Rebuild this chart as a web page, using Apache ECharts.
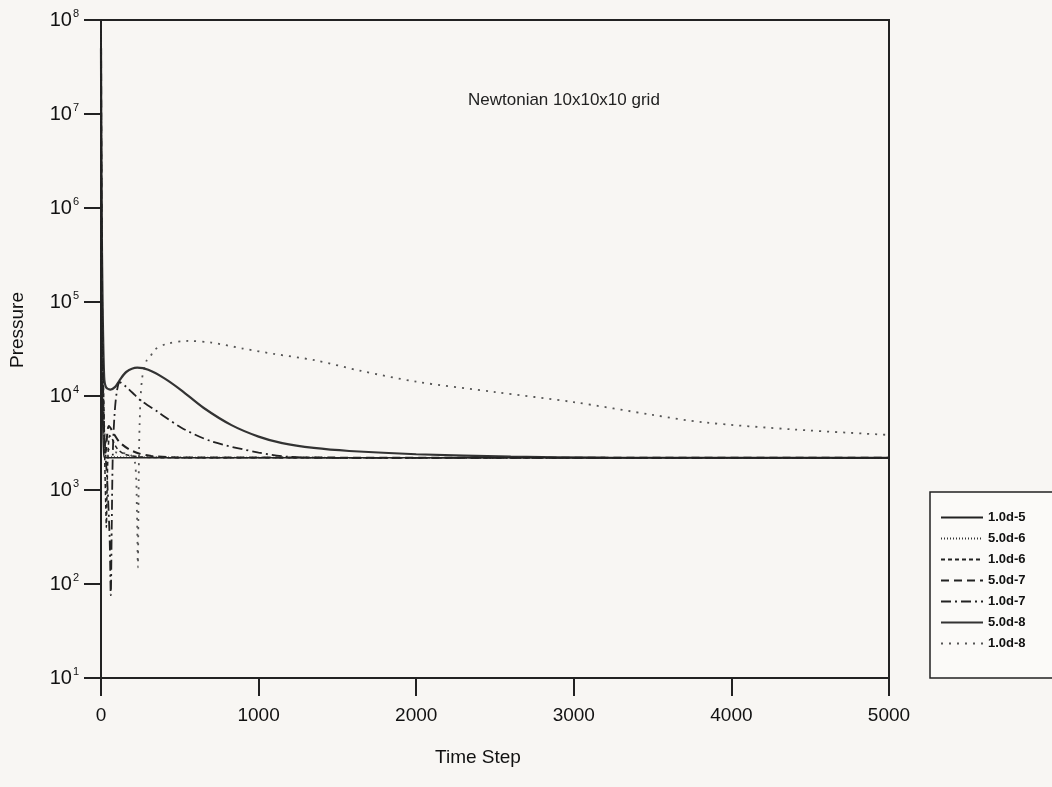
<!DOCTYPE html>
<html>
<head>
<meta charset="utf-8">
<script src="https://cdn.jsdelivr.net/npm/echarts@6/dist/echarts.min.js"></script>
<style>
  html, body { margin: 0; padding: 0; background: #f8f6f3; }
  #chart { width: 1052px; height: 787px; }
</style>
</head>
<body>
<div id="chart"></div>
<script>
// time step / pressure pairs, one array per case
const seriesNames = ['1.0d-5', '5.0d-6', '1.0d-6', '5.0d-7', '1.0d-7', '5.0d-8', '1.0d-8']

const p_1e5 = [[0, 1e8], [2, 1e6], [5, 3e4], [10, 6000], [16, 2600], [25, 2200], [5000, 2200]]
const p_5e6 = [[0, 9e7], [3, 5e5], [7, 4e4], [12, 8000], [20, 3000], [35, 2250], [5000, 2200]]
const p_1e6 = [[0, 8e7], [4, 1e6], [10, 5e4], [18, 8000], [24, 2000], [30, 700], [34, 400], [38, 900],
  [45, 2500], [55, 3800], [70, 3500], [100, 2800], [150, 2400], [250, 2250], [500, 2200], [5000, 2200]]
const p_5e7 = [[0, 7e7], [5, 2e5], [12, 1.5e4], [20, 4000], [30, 2500], [40, 4000], [50, 4800], [80, 4000],
  [120, 3200], [180, 2700], [240, 2450], [320, 2300], [500, 2220], [5000, 2200]]
const p_1e7 = [[0, 6e7], [5, 1e5], [12, 1e4], [25, 3000], [40, 1200], [55, 300], [62, 76], [68, 400],
  [75, 2500], [85, 6000], [100, 11000], [120, 14000], [160, 12500], [216, 10200], [250, 9000], [368, 6650],
  [510, 4600], [700, 3300], [1000, 2500], [1200, 2250], [1500, 2200], [5000, 2200]]
const p_5e8 = [[0, 5e7], [4, 1e6], [10, 1e5], [20, 1.6e4], [32, 12400], [60, 11700], [90, 12500], [115, 14400],
  [160, 18000], [230, 20000], [300, 19000], [400, 15500], [510, 11500], [650, 7500], [828, 4900], [1000, 3700],
  [1150, 3150], [1350, 2800], [1575, 2600], [2000, 2400], [2600, 2260], [3200, 2210], [5000, 2200]]
const p_1e8 = [[0, 4e7], [4, 5e5], [10, 3e4], [20, 5000], [40, 2800], [100, 2500], [180, 2400], [215, 2000],
  [228, 600], [234, 150], [238, 800], [245, 5000], [260, 15000], [290, 24000], [311, 26000], [340, 31000],
  [420, 36000], [554, 38500], [700, 37000], [900, 32000], [1100, 28000], [1357, 24000], [1650, 18500],
  [2000, 14200], [2500, 11000], [3000, 8600], [3500, 6300], [3820, 5250], [4400, 4400], [5000, 3850]]

const xTicks = [0, 1000, 2000, 3000, 4000, 5000]
const yExponents = [1, 2, 3, 4, 5, 6, 7, 8]

const font = '"Liberation Sans", Arial, Helvetica, sans-serif'
const chart = echarts.init(document.getElementById('chart'), null, { renderer: 'canvas' })

const lineStyles = [
  { color: '#222', width: 1.4, type: 'solid' },
  { color: '#333', width: 1.2, type: [1, 2] },
  { color: '#222', width: 1.5, type: [4, 3] },
  { color: '#222', width: 2, type: [8, 5] },
  { color: '#222', width: 1.8, type: [10, 4, 2, 4] },
  { color: '#333', width: 2.2, type: 'solid' },
  { color: '#555', width: 1.8, type: [2, 6] },
]
const datasets = [p_1e5, p_5e6, p_1e6, p_5e7, p_1e7, p_5e8, p_1e8]

const option = {
  backgroundColor: '#f8f6f3',
  animation: false,
  textStyle: { fontFamily: font },
  title: {
    text: 'Newtonian 10x10x10 grid',
    left: 463,
    top: 87,
    textStyle: { fontFamily: font, fontSize: 17, fontWeight: 'normal', color: '#222' },
  },
  grid: {
    left: 101,
    right: 163,
    top: 20,
    bottom: 109,
    show: true,
    borderColor: '#222',
    borderWidth: 2,
    backgroundColor: 'transparent',
  },
  legend: {
    orient: 'vertical',
    left: 930,
    top: 492,
    data: seriesNames,
    itemWidth: 42,
    itemHeight: 13,
    itemGap: 8,
    padding: [19, 80, 28, 10],
    borderColor: '#222',
    borderWidth: 1.5,
    backgroundColor: '#fbfaf8',
    itemStyle: { opacity: 0 },
    textStyle: { fontFamily: font, fontSize: 13, fontWeight: 'bold', color: '#111' },
  },
  xAxis: {
    type: 'value',
    min: 0,
    max: 5000,
    interval: 1000,
    name: 'Time Step',
    nameLocation: 'middle',
    nameGap: 70,
    nameTextStyle: { fontFamily: font, fontSize: 19, color: '#111', padding: [0, 34, 0, 0] },
    axisLine: { lineStyle: { color: '#222', width: 2 } },
    axisTick: { inside: false, length: 18, lineStyle: { color: '#222', width: 2 } },
    axisLabel: {
      margin: 28,
      fontSize: 19,
      color: '#111',
      fontFamily: font,
      formatter: v => (xTicks.includes(v) ? String(v) : ''),
    },
    splitLine: { show: false },
  },
  yAxis: {
    type: 'log',
    logBase: 10,
    min: 10,
    max: 1e8,
    splitNumber: 7,
    name: 'Pressure',
    nameLocation: 'middle',
    nameGap: 74,
    nameTextStyle: { fontFamily: font, fontSize: 19, color: '#111', padding: [0, 0, 0, 38] },
    axisLine: { lineStyle: { color: '#222', width: 2 } },
    axisTick: { inside: false, length: 17, lineStyle: { color: '#222', width: 2 } },
    axisLabel: {
      margin: 22,
      color: '#111',
      formatter: v => {
        const e = Math.round(Math.log10(v))
        return yExponents.includes(e) ? '{b|10}{s|' + e + '}' : ''
      },
      rich: {
        b: { fontFamily: font, fontSize: 20, color: '#111' },
        s: { fontFamily: font, fontSize: 11, color: '#111', padding: [0, 0, 12, 1] },
      },
    },
    splitLine: { show: false },
    minorTick: { show: false },
  },
  series: datasets.map((d, i) => ({
    name: seriesNames[i],
    type: 'line',
    data: d,
    symbol: 'none',
    smooth: 0.3,
    clip: true,
    lineStyle: lineStyles[i],
    itemStyle: { color: lineStyles[i].color },
    z: 10 - i,
  })),
}

chart.setOption(option)
</script>
</body>
</html>
